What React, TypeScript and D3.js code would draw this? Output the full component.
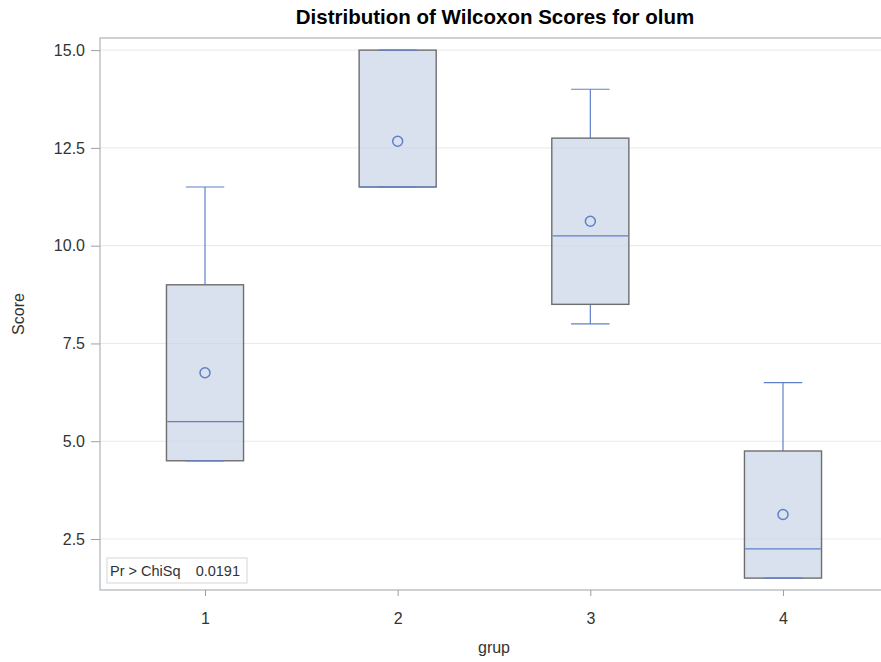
import React, { useEffect, useRef } from 'react';
import * as d3 from 'd3';

// groups and the box statistics
const groups = ['1', '2', '3', '4'];
const whiskerLow = [4.5, 11.5, 8.0, 1.5];
const q1 = [4.5, 11.5, 8.5, 1.5];
const median = [5.5, 11.5, 10.25, 2.25];
const q3 = [9.0, 15.0, 12.75, 4.75];
const whiskerHigh = [11.5, 15.0, 14.0, 6.5];
const means = [6.75, 12.67, 10.625, 3.125];
const yTicks = [2.5, 5.0, 7.5, 10.0, 12.5, 15.0];
const insetLabel = 'Pr > ChiSq';
const insetValue = '0.0191';

const W = 881, H = 662;
const FONT = '"Liberation Sans", Arial, sans-serif';
const BLUE = '#5f80c9';

const App = () => {
  const ref = useRef<SVGSVGElement>(null);

  useEffect(() => {
    const svg = d3.select(ref.current);
    svg.selectAll('*').remove();

    const margin = { top: 38, right: -7, bottom: 72, left: 100 };
    const left = margin.left, right = W - margin.right;
    const top = margin.top, bottom = H - margin.bottom;

    const y = d3.scaleLinear().domain([1.196, 15.31]).range([bottom, top]);
    const x = d3.scalePoint<string>().domain(groups).range([left, right]).padding(0.545);
    const step = x.step();
    const boxW = step * 0.4;
    const capW = boxW / 2;

    // grid
    svg.append('g').selectAll('line').data(yTicks).join('line')
      .attr('x1', left).attr('x2', right)
      .attr('y1', d => y(d)).attr('y2', d => y(d))
      .attr('stroke', '#e7e9ea').attr('stroke-width', 1);

    // frame
    svg.append('rect')
      .attr('x', left).attr('y', top)
      .attr('width', right - left).attr('height', bottom - top)
      .attr('fill', 'none').attr('stroke', '#b4babd').attr('stroke-width', 1.3);

    // y axis
    const ya = svg.append('g').attr('transform', `translate(${left},0)`)
      .call(d3.axisLeft(y).tickValues(yTicks).tickFormat(d3.format('.1f')).tickSize(9).tickPadding(6));
    ya.select('.domain').remove();
    ya.selectAll('line').attr('stroke', '#9aa0a4');
    ya.selectAll('text').attr('font-family', FONT).attr('font-size', 16).attr('fill', '#333');

    // x axis
    const xa = svg.append('g').attr('transform', `translate(0,${bottom})`)
      .call(d3.axisBottom(x).tickSize(6).tickPadding(17));
    xa.select('.domain').remove();
    xa.selectAll('line').attr('stroke', '#9aa0a4');
    xa.selectAll('text').attr('font-family', FONT).attr('font-size', 16).attr('fill', '#333');

    const g = svg.append('g');
    groups.forEach((grp, i) => {
      const cx = x(grp)!;
      // whiskers
      g.append('line').attr('x1', cx).attr('x2', cx)
        .attr('y1', y(q3[i])).attr('y2', y(whiskerHigh[i]))
        .attr('stroke', BLUE).attr('stroke-width', 1.2);
      g.append('line').attr('x1', cx).attr('x2', cx)
        .attr('y1', y(q1[i])).attr('y2', y(whiskerLow[i]))
        .attr('stroke', BLUE).attr('stroke-width', 1.2);
      // box
      g.append('rect')
        .attr('x', cx - boxW / 2).attr('y', y(q3[i]))
        .attr('width', boxW).attr('height', y(q1[i]) - y(q3[i]))
        .attr('fill', 'rgba(200,212,230,0.7)').attr('stroke', '#6e6e6e').attr('stroke-width', 1.4);
      // caps
      [whiskerHigh[i], whiskerLow[i]].forEach(v => {
        g.append('line').attr('x1', cx - capW / 2).attr('x2', cx + capW / 2)
          .attr('y1', y(v)).attr('y2', y(v))
          .attr('stroke', BLUE).attr('stroke-width', 1.2);
      });
      // median
      g.append('line').attr('x1', cx - boxW / 2 + 0.7).attr('x2', cx + boxW / 2 - 0.7)
        .attr('y1', y(median[i])).attr('y2', y(median[i]))
        .attr('stroke', BLUE).attr('stroke-width', 1.2);
      // mean
      g.append('circle').attr('cx', cx).attr('cy', y(means[i])).attr('r', 5)
        .attr('fill', 'none').attr('stroke', BLUE).attr('stroke-width', 1.5);
    });

    // inset
    const inset = svg.append('g').attr('transform', `translate(${left + 7},${bottom - 32})`);
    inset.append('rect').attr('width', 140).attr('height', 25)
      .attr('fill', 'white').attr('stroke', '#d3d6d8');
    inset.append('text').attr('x', 3).attr('y', 18)
      .attr('font-family', FONT).attr('font-size', 14.5).attr('fill', '#333')
      .text(insetLabel);
    inset.append('text').attr('x', 133).attr('y', 18).attr('text-anchor', 'end')
      .attr('font-family', FONT).attr('font-size', 14.5).attr('fill', '#333')
      .text(insetValue);

    // titles
    svg.append('text').attr('x', 495).attr('y', 24).attr('text-anchor', 'middle')
      .attr('font-family', FONT).attr('font-size', 20.5).attr('font-weight', 'bold').attr('fill', '#000')
      .text('Distribution of Wilcoxon Scores for olum');
    svg.append('text').attr('x', 494).attr('y', 653).attr('text-anchor', 'middle')
      .attr('font-family', FONT).attr('font-size', 16).attr('fill', '#333')
      .text('grup');
    svg.append('text').attr('transform', `translate(24,${(top + bottom) / 2}) rotate(-90)`)
      .attr('text-anchor', 'middle')
      .attr('font-family', FONT).attr('font-size', 16).attr('fill', '#333')
      .text('Score');
  }, []);

  return (
    <div style={{ position: 'fixed', left: 0, top: 0, width: W, height: H, overflow: 'hidden', background: 'white' }}>
      <svg ref={ref} width={W} height={H} style={{ display: 'block' }}></svg>
    </div>
  );
};

export default App;
